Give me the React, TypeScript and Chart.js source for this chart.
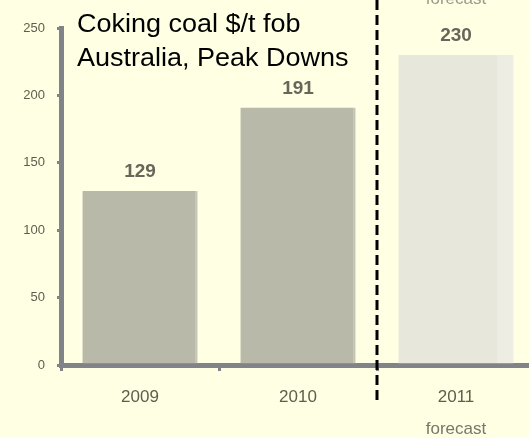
import React, { useEffect, useRef } from "react";
import { Chart, registerables } from "chart.js";

Chart.register(...registerables);

const years = ["2009", "2010", "2011"];
const prices = [129, 191, 230];
const barColors = ["#B9B9AA", "#B9B9AA", "#E7E7DB"];
const barEdgeColors = ["#C4C4B6", "#C4C4B6", "#EDEDE3"];
const titleLines = ["Coking coal $/t fob", "Australia, Peak Downs"];
const forecastNote = "forecast";

const FONT = "Arial, 'Liberation Sans', sans-serif";

const overlay = {
  id: "overlay",
  afterDraw(chart: any) {
    const { ctx, scales } = chart;
    const x = scales.x;
    const meta = chart.getDatasetMeta(0);
    ctx.save();
    // dashed forecast separator
    const xd = (x.getPixelForValue(1) + x.getPixelForValue(2)) / 2;
    ctx.strokeStyle = "#000";
    ctx.lineWidth = 3;
    ctx.setLineDash([10, 5]);
    ctx.beginPath();
    ctx.moveTo(xd, 0);
    ctx.lineTo(xd, 400);
    ctx.stroke();
    ctx.setLineDash([]);
    // value labels
    ctx.fillStyle = "#66665A";
    ctx.font = `bold 19px ${FONT}`;
    ctx.textAlign = "center";
    ctx.textBaseline = "alphabetic";
    meta.data.forEach((bar: any, i: number) => {
      ctx.fillText(String(prices[i]), bar.x, bar.y - 14);
    });
    // forecast notes
    const x2 = x.getPixelForValue(2);
    ctx.font = `17px ${FONT}`;
    ctx.fillStyle = "#77776A";
    ctx.fillText(forecastNote, x2, 434);
    ctx.fillStyle = "#9A9A8C";
    ctx.fillText(forecastNote, x2, 4);
    // title
    ctx.fillStyle = "#000";
    ctx.font = `25px ${FONT}`;
    ctx.textAlign = "left";
    ctx.translate(77, 0);
    ctx.scale(1.08, 1);
    ctx.fillText(titleLines[0], 0, 32);
    ctx.fillText(titleLines[1], 0, 66);
    ctx.restore();
  },
};

export default function App() {
  const ref = useRef<HTMLCanvasElement>(null);
  useEffect(() => {
    const chart = new Chart(ref.current!, {
      type: "bar",
      data: {
        labels: years,
        datasets: [
          {
            data: prices,
            backgroundColor: barColors,
            borderColor: barEdgeColors,
            borderWidth: (c: any) => ({ right: c.dataIndex === 2 ? 16 : 2 }),
            borderSkipped: false,
            categoryPercentage: 1,
            barPercentage: 0.73,
          },
        ],
      },
      options: {
        animation: false,
        responsive: false,
        layout: { padding: { top: 28, left: 0, right: 1, bottom: 0 } },
        plugins: { legend: { display: false }, tooltip: { enabled: false }, title: { display: false } },
        scales: {
          x: {
            z: 1,
            afterFit: (s: any) => {
              s.height = 73;
            },
            grid: {
              drawOnChartArea: false,
              drawTicks: true,
              tickLength: 6,
              color: "#828289",
              lineWidth: 3,
            },
            border: { display: true, color: "#828289", width: 5 },
            ticks: {
              color: "#5E5E4E",
              font: { family: FONT, size: 17 },
              padding: 16,
            },
          },
          y: {
            z: 1,
            min: 0,
            max: 250,
            afterFit: (s: any) => {
              s.width = 61;
            },
            grid: {
              drawOnChartArea: false,
              drawTicks: true,
              tickLength: 4,
              color: "#828289",
              lineWidth: 3,
            },
            border: { display: true, color: "#828289", width: 5 },
            ticks: {
              stepSize: 50,
              color: "#5E5E4E",
              font: { family: FONT, size: 13 },
              padding: 12,
            },
          },
        },
      },
      plugins: [overlay],
    });
    return () => chart.destroy();
  }, []);
  return (
    <div
      style={{
        position: "fixed",
        left: 0,
        top: 0,
        width: 529,
        height: 438,
        overflow: "hidden",
        background: "#FFFFE4",
      }}
    >
      <canvas ref={ref} width={536} height={438} style={{ display: "block" }} />
    </div>
  );
}
